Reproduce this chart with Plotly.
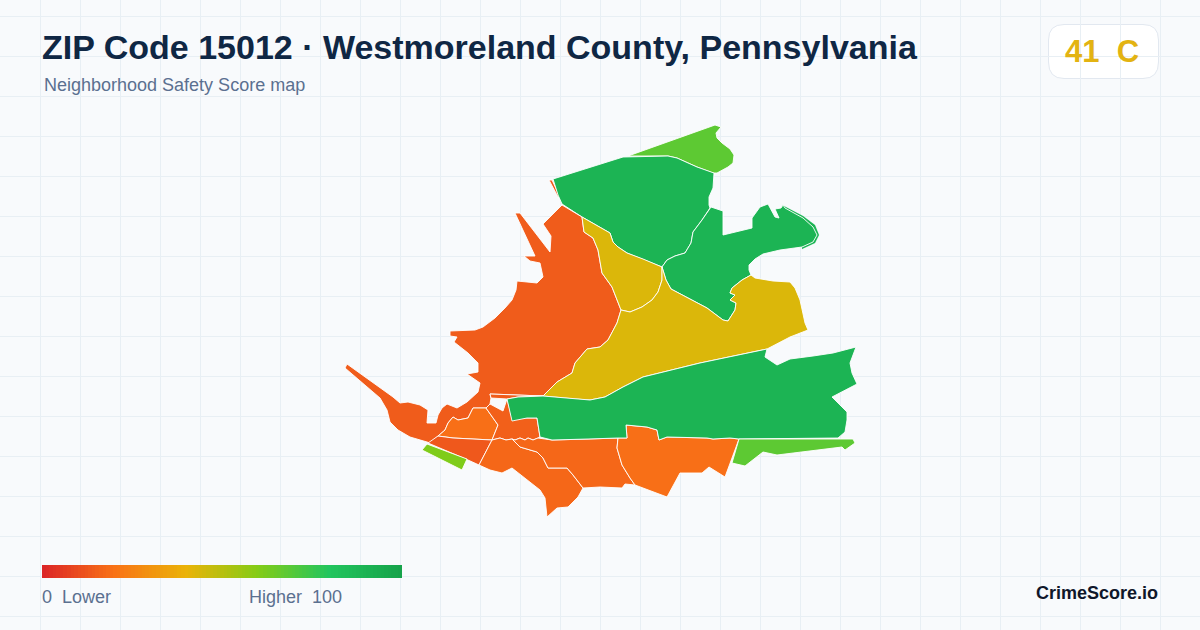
import plotly.graph_objects as go
from plotly.colors import sample_colorscale

TITLE = "ZIP Code 15012 · Westmoreland County, Pennsylvania"
SUBTITLE = "Neighborhood Safety Score map"
ZIP_SCORE = 41
ZIP_GRADE = "C"
BRAND = "CrimeScore.io"

scale_stops = [0, 20, 40, 60, 80, 100]
scale_colors = ["#dc2626", "#f97316", "#eab308", "#84cc16", "#22c55e", "#16a34a"]
legend_values = list(range(0, 101))

# Map outlines (projected map coordinates)
north_lime = [(628,156),(715,125),(721,127),(716,133),(717,138),(722,143),(730,149),(734,155),(733,163),(728,167),(717,173),(713,173),(697,167),(677,158),(668,156)]
north_green = [(553,179),(623,157),(668,156),(677,158),(697,167),(714,173),(713,188),(709,197),(709,205),(710,208),(702,220),(693,232),(691,243),(685,253),(675,256),(667,260),(662,267),(643,259),(627,253),(618,247),(613,242),(610,233),(582,217),(562,204),(558,195)]
north_sliver = [(549,180),(552,180),(560,197),(558,197)]
harbor_rim = [(782,205),(803,216),(815,225),(819,235),(815,243),(802,249),(802,247),(813,241),(816,235),(812,227),(803,219),(785,209)]
harbor_green = [(711,207),(723,211),(723,235),(752,228),(752,218),(760,207),(768,204),(775,217),(779,218),(775,209),(781,208),(783,205),(785,208),(803,218),(813,227),(817,235),(813,242),(802,247),(780,250),(763,254),(755,259),(749,265),(749,270),(751,275),(742,280),(732,288),(730,293),(735,295),(730,300),(736,303),(735,310),(728,321),(723,320),(707,308),(671,289),(666,280),(662,267),(667,260),(675,256),(685,253),(691,243),(693,232),(702,220)]
yellow_north = [(582,217),(610,233),(613,242),(618,247),(627,253),(643,259),(662,267),(662,280),(658,292),(652,300),(642,307),(630,312),(621,310),(612,287),(602,273),(598,250),(593,238),(584,232)]
yellow_south = [(621,310),(630,312),(642,307),(652,300),(658,292),(662,280),(662,267),(666,280),(671,289),(707,308),(723,320),(728,321),(735,310),(736,303),(730,300),(735,295),(730,293),(732,288),(742,280),(751,275),(755,278),(773,281),(790,282),(795,288),(800,300),(803,313),(805,323),(808,330),(790,337),(767,349),(700,363),(643,377),(623,387),(605,397),(590,400),(575,399),(543,396),(557,382),(572,373),(575,363),(587,349),(600,347),(608,340),(617,323)]
west_orange = [(562,205),(543,224),(551,236),(550,252),(520,213),(515,213),(535,256),(524,256),(530,261),(540,263),(543,277),(537,283),(517,281),(516,290),(512,300),(505,308),(495,318),(483,327),(475,330),(450,331),(450,336),(457,337),(454,342),(462,348),(468,353),(478,363),(478,372),(467,374),(480,383),(478,392),(467,402),(457,408),(447,404),(442,408),(438,415),(436,423),(427,423),(428,410),(420,405),(408,402),(400,403),(393,397),(347,364),(345,368),(363,383),(380,398),(387,410),(390,422),(398,430),(410,437),(427,442),(430,443),(438,436),(445,430),(448,423),(453,417),(458,420),(468,418),(473,408),(486,408),(490,404),(491,398),(490,394),(543,396),(557,382),(572,373),(575,363),(587,349),(600,347),(608,340),(617,323),(621,310),(612,287),(602,273),(598,250),(593,238),(584,232),(582,217)]
hole_sliver = [(490,394),(518,395),(543,396),(518,397),(507,399),(491,398)]
mid_orange = [(448,423),(453,417),(458,420),(468,418),(473,408),(486,408),(498,425),(492,440),(453,438),(445,437),(438,436),(445,430)]
center_orange = [(490,404),(503,411),(507,399),(512,418),(537,418),(540,437),(538,438),(533,440),(528,438),(525,440),(520,438),(515,440),(512,439),(506,440),(500,438),(492,440),(498,425),(486,408)]
lower_left = [(438,436),(445,437),(453,438),(492,440),(479,465),(468,460),(428,443)]
lime_strip = [(427,444),(467,459),(462,470),(422,450)]
south_a = [(492,440),(500,438),(506,440),(512,439),(520,447),(537,452),(543,458),(548,468),(567,468),(573,475),(583,488),(578,497),(568,507),(557,508),(547,517),(545,498),(540,490),(527,480),(512,468),(502,473),(490,470),(479,465)]
south_b = [(512,439),(515,440),(520,438),(525,440),(528,438),(533,440),(538,438),(552,440),(588,439),(618,438),(617,448),(622,465),(630,478),(635,485),(625,484),(622,488),(600,487),(583,488),(573,475),(567,468),(548,468),(543,458),(537,452),(520,447)]
south_c = [(626,425),(647,427),(657,430),(659,440),(667,437),(707,438),(713,439),(730,438),(739,439),(725,477),(709,467),(702,473),(680,473),(667,497),(635,485),(630,478),(622,465),(617,448),(618,438),(627,438)]
south_green = [(507,399),(518,397),(543,396),(575,399),(590,400),(605,397),(623,387),(643,377),(700,363),(767,349),(765,357),(777,365),(790,359),(813,356),(833,353),(856,347),(850,363),(852,373),(857,384),(832,397),(847,412),(847,420),(845,432),(838,438),(739,439),(730,438),(713,439),(707,438),(667,437),(659,440),(657,430),(647,427),(626,425),(627,438),(618,438),(588,439),(552,440),(540,437),(537,418),(527,418),(512,421)]
southeast_lime = [(739,439),(853,439),(855,443),(845,450),(842,447),(777,455),(763,452),(745,466),(732,463)]

# (outline, score, drawn with an outline)
regions = [
    (north_sliver, 14, True),
    (north_lime, 68, True),
    (north_green, 90, True),
    (harbor_rim, 90, False),
    (harbor_green, 90, True),
    (west_orange, 14, True),
    (yellow_north, 43, True),
    (yellow_south, 43, True),
    (hole_sliver, 14, True),
    (mid_orange, 19, True),
    (center_orange, 15, True),
    (lower_left, 13, True),
    (lime_strip, 61, True),
    (south_a, 17, True),
    (south_b, 17, True),
    (south_c, 19, True),
    (south_green, 90, True),
    (southeast_lime, 68, True),
]

colorscale = [[s / 100, c] for s, c in zip(scale_stops, scale_colors)]

fig = go.Figure()
for outline, score, edged in regions:
    xs = [p[0] for p in outline] + [outline[0][0]]
    ys = [p[1] for p in outline] + [outline[0][1]]
    color = sample_colorscale(colorscale, [score / 100])[0]
    fig.add_trace(go.Scatter(
        x=xs, y=ys, mode="lines", fill="toself", fillcolor=color,
        line=dict(color="#ffffff" if edged else color, width=0.9 if edged else 0.1),
        hoverinfo="skip", showlegend=False,
    ))

fig.add_trace(go.Heatmap(
    z=[legend_values], x0=42 + 360 / 202, dx=360 / 101, y0=571.5, dy=13,
    colorscale=colorscale, zmin=0, zmax=100, showscale=False, hoverinfo="skip",
))

BG = "#f8fafc"
GRID = "#e8eff4"


def label(text, x, y, size, color, bold=False, anchor="left"):
    fig.add_annotation(
        x=x, y=y, xref="x", yref="y", text=text, showarrow=False, xanchor=anchor, yanchor="middle",
        borderpad=0, borderwidth=0, align=anchor,
        font=dict(family="Liberation Sans", size=size, color=color, weight="bold" if bold else "normal"),
    )


label(TITLE, 42, 47, 34, "#0f2744", True)
label(SUBTITLE, 44, 85, 18, "#5b7090")
label(f"{ZIP_SCORE}\u00a0\u00a0{ZIP_GRADE}", 1065, 51, 31, "#e3b312", True)
label("0\u00a0\u00a0Lower", 42, 597, 18, "#5b7090")
label("Higher\u00a0\u00a0100", 249, 597, 18, "#5b7090")
label(BRAND, 1158, 593, 18, "#0f172a", True, "right")

fig.update_layout(
    width=1200, height=630, margin=dict(l=0, r=0, t=0, b=0), autosize=False,
    paper_bgcolor=BG, plot_bgcolor=BG,
    xaxis=dict(range=[0, 1200], tick0=0, dtick=40, showgrid=True, gridcolor=GRID, gridwidth=1,
               zeroline=False, showticklabels=False, ticks="", showline=False, fixedrange=True),
    yaxis=dict(range=[630, 0], tick0=16, dtick=40, showgrid=True, gridcolor=GRID, gridwidth=1,
               zeroline=False, showticklabels=False, ticks="", showline=False, fixedrange=True),
    shapes=[
        dict(type="rect", x0=0, x1=1200, y0=0, y1=95.5, layer="below", fillcolor=BG, line_width=0),
        dict(type="path", layer="below", fillcolor="#ffffff", line=dict(color="#e2e8f0", width=1),
             path="M 1064 24.5 L 1143 24.5 Q 1158.5 24.5 1158.5 40 L 1158.5 62 Q 1158.5 78.5 1143 78.5 "
                  "L 1064 78.5 Q 1048.5 78.5 1048.5 62 L 1048.5 40 Q 1048.5 24.5 1064 24.5 Z"),
    ],
)

fig.write_html("out.html", config=dict(displayModeBar=False, responsive=False),
               post_script="document.body.style.margin='0';document.body.style.overflow='hidden';")
